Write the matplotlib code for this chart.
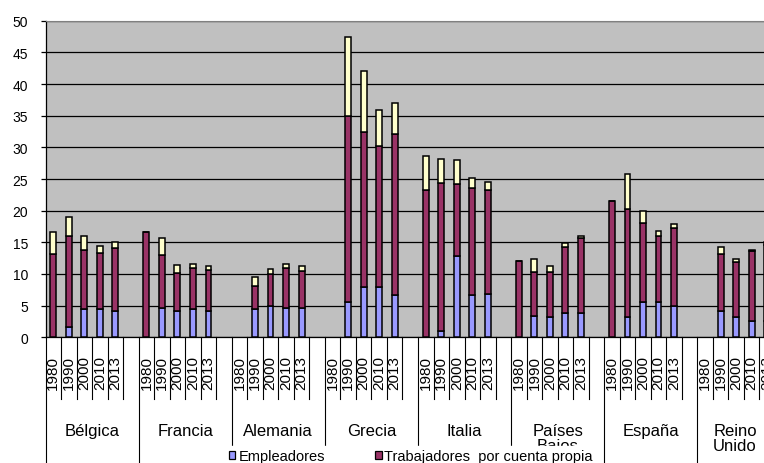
import numpy as np
import matplotlib.pyplot as plt
from matplotlib.patches import Patch
from matplotlib.transforms import blended_transform_factory

plt.rcParams['font.family'] = ['Liberation Sans', 'DejaVu Sans']

countries = ['Bélgica', 'Francia', 'Alemania', 'Grecia', 'Italia',
             'Países\nBajos', 'España', 'Reino\nUnido']
years = ['1980', '1990', '2000', '2010', '2013']
nan = np.nan

# % of total employment, 5 years per country (nan = no data)
empleadores = [
    0.0, 1.6, 4.4, 4.4, 4.2,      # Bélgica
    0.0, 4.7, 4.2, 4.4, 4.2,      # Francia
    nan, 4.4, 5.0, 4.7, 4.7,      # Alemania
    nan, 5.5, 8.0, 8.0, 6.7,      # Grecia
    0.0, 1.0, 12.8, 6.7, 6.9,     # Italia
    0.0, 3.4, 3.15, 3.8, 3.8,     # Países Bajos
    0.0, 3.15, 5.5, 5.5, 5.0,     # España
    nan, 4.1, 3.15, 2.6, 2.6,     # Reino Unido
]
cuenta_propia = [
    13.1, 14.35, 9.4, 8.9, 9.95,
    16.6, 8.3, 5.95, 6.5, 6.5,
    nan, 3.65, 4.95, 6.2, 5.8,
    nan, 29.4, 24.4, 22.25, 25.4,
    23.3, 23.3, 11.35, 16.9, 16.35,
    12.1, 6.85, 7.1, 10.5, 11.85,
    21.5, 17.1, 12.5, 10.55, 12.2,
    nan, 9.05, 8.7, 11.0, 12.0,
]
familiares = [
    3.6, 3.0, 2.25, 1.1, 0.95,
    0.0, 2.7, 1.25, 0.7, 0.5,
    nan, 1.5, 0.85, 0.65, 0.75,
    nan, 12.6, 9.6, 5.65, 4.9,
    5.4, 3.85, 3.85, 1.55, 1.35,
    0.0, 2.1, 0.95, 0.55, 0.4,
    0.0, 5.55, 2.0, 0.8, 0.7,
    nan, 1.15, 0.5, 0.25, 0.4,
]
series_names = ['Empleadores', 'Trabajadores  por cuenta propia', 'Ayudas familiares']
colors = ['#9999FF', '#993366', '#FFFFCC']


def with_gaps(vals):
    # each country gets its 5 years plus one empty slot
    a = np.array(vals, dtype=float).reshape(len(countries), len(years))
    a = np.hstack([a, np.full((len(countries), 1), np.nan)])
    return a.ravel()


emp = with_gaps(empleadores)
own = with_gaps(cuenta_propia)
fam = with_gaps(familiares)
n_slots = len(emp)
x = np.arange(n_slots)
tick_labels = (years + [''])*len(countries)

W, H = 764, 464
fig = plt.figure(figsize=(W/100, H/100), dpi=100)
ax_left, ax_top, ax_bottom, slot_px = 45.5, 21.7, 338.3, 15.52
ax = fig.add_axes([ax_left/W, (H - ax_bottom)/H, n_slots*slot_px/W, (ax_bottom - ax_top)/H])
ax.set_facecolor('#C0C0C0')

bw = 0.38
kw = dict(width=bw, edgecolor='black', linewidth=1.1, zorder=3)
ax.bar(x, emp, color=colors[0], **kw)
ax.bar(x, own, bottom=emp, color=colors[1], **kw)
ax.bar(x, fam, bottom=emp + own, color=colors[2], **kw)

ax.set_xlim(-0.5, n_slots - 0.5)
ax.set_ylim(0, 50)
ax.set_yticks(np.arange(0, 51, 5))
ax.tick_params(axis='y', length=3.6, width=0.9, pad=9, labelsize=10, colors='black')
ax.yaxis.grid(True, color='black', linewidth=0.9)
ax.set_axisbelow(True)

ax.set_xticks(x)
ax.set_xticklabels(tick_labels, rotation=90, fontsize=11)
ax.tick_params(axis='x', length=0, pad=12.5)

ax.spines['right'].set_visible(False)
ax.spines['top'].set_color('#808080')
ax.spines['left'].set_linewidth(0.9)
ax.spines['bottom'].set_linewidth(0.9)

# category table below the axis
trans = blended_transform_factory(ax.transData, ax.transAxes)
ax_h = ax_bottom - ax_top
short_y = -(400 - ax_bottom)/ax_h
long_y = -(H + 10 - ax_bottom)/ax_h
for k in range(n_slots + 1):
    bottom = long_y if k % 6 == 0 else short_y
    ax.plot([k - 0.5, k - 0.5], [0, bottom], color='black', lw=0.8,
            transform=trans, clip_on=False)

# group names; the last one is pulled left so it stays inside the canvas
label_y = -(424 - ax_bottom)/ax_h
edge_x = (W - 29 - ax_left)/slot_px - 0.5
for g, name in enumerate(countries):
    gx = min(6*g + 2.5, edge_x)
    ax.text(gx, label_y, name, transform=trans, ha='center', va='top',
            fontsize=12, linespacing=1.0, clip_on=False)

# legend fills column-wise: first row Empleadores / cuenta propia
order = [0, 2, 1]
handles = [Patch(facecolor=colors[i], edgecolor='black', linewidth=0.9) for i in order]
fig.legend(handles, [series_names[i] for i in order], ncol=2, loc='upper left',
           bbox_to_anchor=(226/W, 1 - 447/H), frameon=True, fancybox=False,
           facecolor='white', edgecolor='white', framealpha=1, fontsize=10.5,
           handlelength=0.45, handleheight=0.45, handletextpad=0.2,
           columnspacing=1.4, borderpad=0.2, borderaxespad=0)

fig.savefig('out.png', dpi=100)
